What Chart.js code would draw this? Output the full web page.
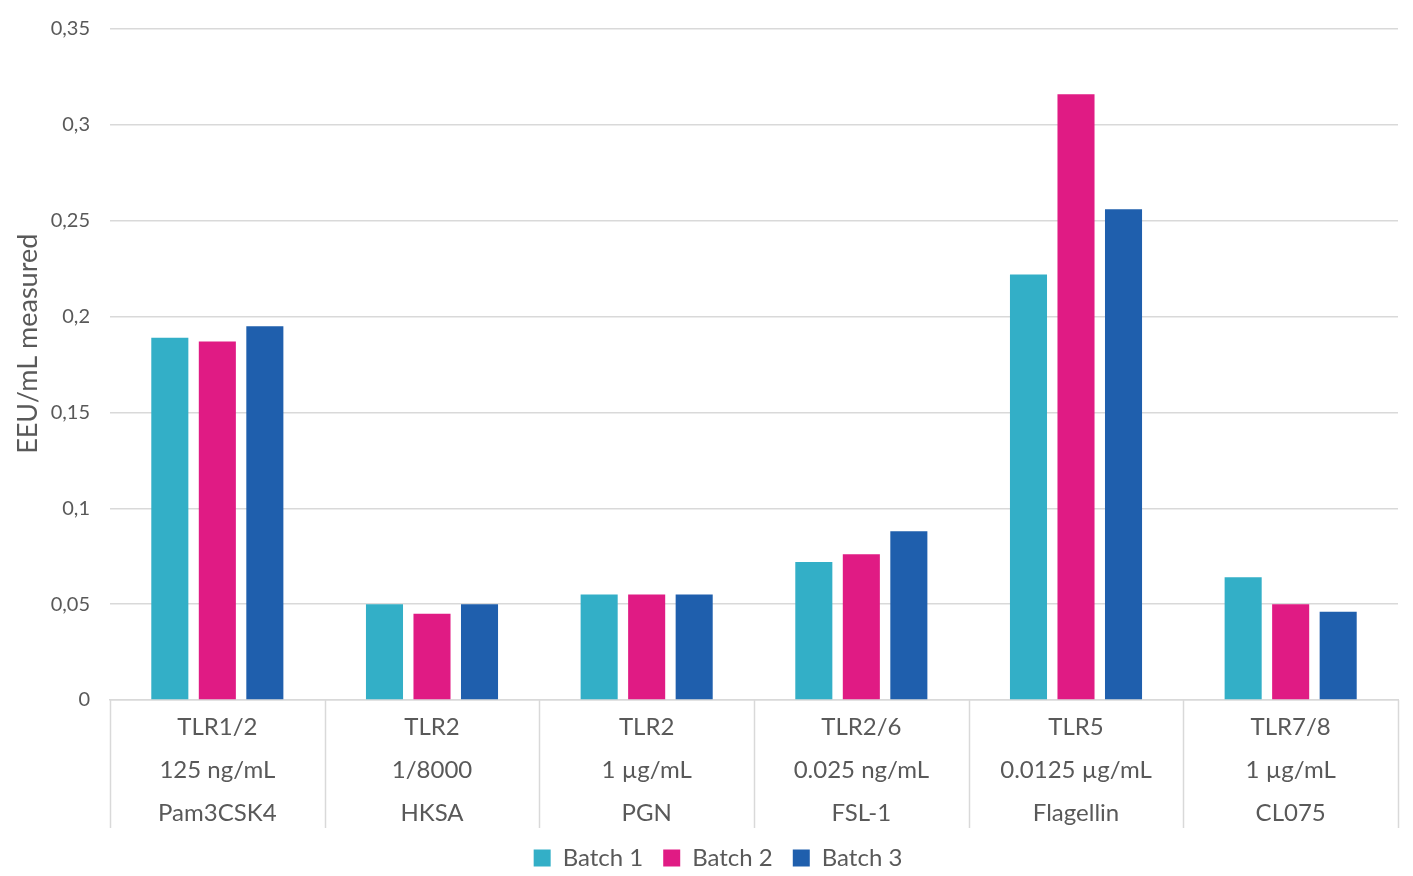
<!DOCTYPE html>
<html>
<head>
<meta charset="utf-8">
<script src="https://cdn.jsdelivr.net/npm/chart.js@4"></script>
<style>
  html, body { margin: 0; padding: 0; background: #fff; }
  #wrap { width: 1413px; height: 876px; position: relative; }
</style>
</head>
<body>
<div id="wrap"><canvas id="c" width="1413" height="876"></canvas></div>
<script>
const categories = [
  ["TLR1/2", "125 ng/mL", "Pam3CSK4"],
  ["TLR2", "1/8000", "HKSA"],
  ["TLR2", "1 µg/mL", "PGN"],
  ["TLR2/6", "0.025 ng/mL", "FSL-1"],
  ["TLR5", "0.0125 µg/mL", "Flagellin"],
  ["TLR7/8", "1 µg/mL", "CL075"]
];
const batch1 = [0.189, 0.050, 0.055, 0.072, 0.222, 0.064];
const batch2 = [0.187, 0.045, 0.055, 0.076, 0.316, 0.050];
const batch3 = [0.195, 0.050, 0.055, 0.088, 0.256, 0.046];
const seriesNames = ["Batch 1", "Batch 2", "Batch 3"];
const yTitle = "EEU/mL measured";

const FONT = "Lato, 'Open Sans', sans-serif";
const TXT = "#595959";
const GRID = "#d9d9d9";

Chart.defaults.font.family = FONT;
Chart.defaults.color = TXT;

const separators = {
  id: 'separators',
  afterLayout(chart) {
    if (chart.legend) {
      chart.legend.left += 19;
      chart.legend.right += 19;
    }
  },
  afterDraw(chart) {
    const x = chart.scales.x;
    const ctx = chart.ctx;
    const b = chart.chartArea.bottom;
    ctx.save();
    ctx.strokeStyle = GRID;
    ctx.lineWidth = 1.5;
    for (let i = 0; i <= categories.length; i++) {
      const px = Math.round(x.getPixelForValue(i - 0.5)) + 0.5;
      ctx.beginPath();
      ctx.moveTo(px, b);
      ctx.lineTo(px, b + 128);
      ctx.stroke();
    }
    ctx.restore();
  }
};

new Chart(document.getElementById('c'), {
  type: 'bar',
  data: {
    labels: categories,
    datasets: [
      { label: seriesNames[0], data: batch1, backgroundColor: '#33afc7' },
      { label: seriesNames[1], data: batch2, backgroundColor: '#e01b84' },
      { label: seriesNames[2], data: batch3, backgroundColor: '#1f5fad' }
    ]
  },
  options: {
    responsive: false,
    animation: false,
    devicePixelRatio: 1,
    layout: { padding: { top: 29, right: 15, left: 0, bottom: -4 } },
    datasets: { bar: { categoryPercentage: 0.664, barPercentage: 0.78 } },
    plugins: {
      legend: {
        position: 'bottom',
        labels: { boxWidth: 17, boxHeight: 17, padding: 20, font: { size: 24 }, color: TXT }
      },
      tooltip: { enabled: false }
    },
    scales: {
      x: {
        afterFit: (s) => { s.height = 126; },
        grid: { offset: true, drawOnChartArea: false, drawTicks: false, color: GRID },
        border: { display: true, color: GRID, width: 1.5 },
        ticks: { padding: 6, font: { size: 24, lineHeight: 1.79 }, color: TXT, maxRotation: 0, autoSkip: false }
      },
      y: {
        min: 0, max: 0.35,
        afterFit: (s) => { s.width = 110; s.paddingTop = 0; s.paddingBottom = 0; },
        grid: { color: GRID, lineWidth: 1.5, drawTicks: false },
        border: { display: false },
        ticks: {
          stepSize: 0.05, padding: 20, font: { size: 20 }, color: TXT,
          callback: (v) => (Math.round(v * 100) / 100).toString().replace('.', ',')
        },
        title: { display: true, text: '      ' + yTitle, font: { size: 27 }, color: TXT, padding: { top: 12, bottom: 0 } }
      }
    }
  },
  plugins: [separators]
});
</script>
</body>
</html>
